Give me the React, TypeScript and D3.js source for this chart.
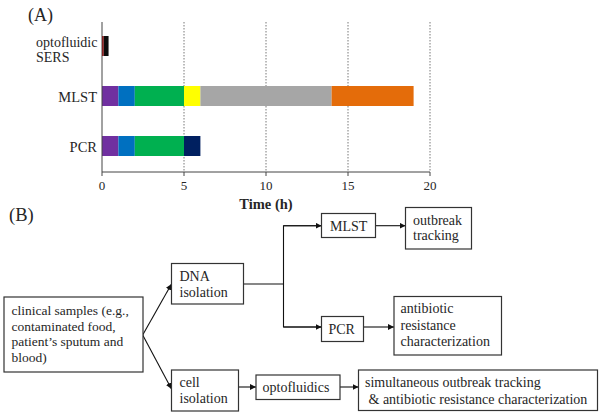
import React, { useEffect } from 'react';
import * as d3 from 'd3';

// Panel A: time-to-result of each method (hours per stage)
const categories = ['optofluidic SERS', 'MLST', 'PCR'];
const optoStages = [0.1, 0.3];
const mlstStages = [1, 1, 3, 1, 8, 5];
const pcrStages = [1, 1, 3, 1];
const optoColors = ['#c00000', '#0d0d0d'];
const mlstColors = ['#7030a0', '#0070c0', '#00b050', '#ffff00', '#a6a6a6', '#e46c0a'];
const pcrColors = ['#7030a0', '#0070c0', '#00b050', '#002060'];
const xTicks = [0, 5, 10, 15, 20];

// Panel B: flow chart
const boxLabels = {
  clinical: ['clinical samples (e.g.,', 'contaminated food,', 'patient\u2019s sputum and', 'blood)'],
  dna: ['DNA', 'isolation'],
  cell: ['cell', 'isolation'],
  mlst: ['MLST'],
  pcr: ['PCR'],
  outbreak: ['outbreak', 'tracking'],
  antibiotic: ['antibiotic', 'resistance', 'characterization'],
  opto: ['optofluidics'],
  simult: ['simultaneous outbreak tracking', ' & antibiotic resistance characterization'],
};

const FONT = "'Liberation Serif', serif";
const INK = '#262626';

// box layout: x, y, w, h, text x, first baseline, line height, font size
const boxLayout: Record<string, number[]> = {
  clinical: [4, 297, 139, 75, 11.5, 315, 15.5, 13.5],
  dna: [171.5, 263.5, 72, 40.5, 179.5, 281, 15.7, 14],
  cell: [171.5, 370, 67, 41, 179.5, 386.7, 16.5, 14],
  mlst: [321.5, 213.5, 54, 24, 330, 230.5, 15, 14],
  pcr: [321.5, 316.5, 42, 25, 328.5, 334, 15, 14],
  outbreak: [405.5, 207.5, 66, 41.5, 413, 225, 15.3, 14],
  antibiotic: [394, 296.5, 107.5, 58.5, 400.5, 313, 16.5, 14],
  opto: [256, 375, 84, 24.5, 262.5, 391.5, 15, 14],
  simult: [358.5, 370, 239, 40.5, 365, 387, 16.5, 14],
};

const links = [
  { pts: [[142.7, 335], [171.5, 284]], arrow: true },
  { pts: [[142.7, 335], [171.5, 389]], arrow: true },
  { pts: [[243.5, 284], [283.5, 284]], arrow: false },
  { pts: [[321.5, 225.7], [283.5, 225.7], [283.5, 327], [321.5, 327]], arrow: false },
  { pts: [[283.5, 225.7], [321.5, 225.7]], arrow: true },
  { pts: [[283.5, 327], [321.5, 327]], arrow: true },
  { pts: [[375.5, 225.7], [405.5, 225.7]], arrow: true },
  { pts: [[363.5, 327], [394, 327]], arrow: true },
  { pts: [[238.5, 387], [256, 387]], arrow: true },
  { pts: [[340, 387], [358.5, 387]], arrow: true },
];

const App = () => {
  useEffect(() => {
    document.body.style.margin = '0';
  }, []);

  const x = d3.scaleLinear().domain([0, 20]).range([102, 430]);
  const y = d3.scaleBand().domain(categories).range([21, 171]).paddingInner(0.6).paddingOuter(0.3);
  const axisY = 172;

  const stacks = [
    { cat: categories[0], vals: optoStages, colors: optoColors },
    { cat: categories[1], vals: mlstStages, colors: mlstColors },
    { cat: categories[2], vals: pcrStages, colors: pcrColors },
  ];

  const line = d3.line();

  return (
    <svg width={602} height={416} style={{ display: 'block', background: '#fff', fontFamily: FONT }}>
      <defs>
        <marker id="arr" viewBox="0 0 10 10" refX="10" refY="5" markerWidth="6" markerHeight="6" orient="auto-start-reverse" markerUnits="userSpaceOnUse">
          <path d="M0,0 L10,5 L0,10 z" fill="#111" />
        </marker>
      </defs>

      {/* (A) */}
      <text x={28} y={21} fontSize={18} fill={INK}>(A)</text>

      {/* gridlines */}
      {xTicks.slice(1).map((t) => (
        <line key={t} x1={x(t)} x2={x(t)} y1={22} y2={axisY} stroke="#555" strokeWidth={0.8} strokeDasharray="1.5,1.5" />
      ))}

      {/* bars */}
      {stacks.map((s) => {
        const ends = d3.cumsum(s.vals);
        return s.vals.map((v, i) => (
          <rect
            key={s.cat + i}
            x={x(ends[i] - v)}
            y={y(s.cat)}
            width={x(ends[i]) - x(ends[i] - v)}
            height={y.bandwidth()}
            fill={s.colors[i]}
          />
        ));
      })}

      {/* axes */}
      <line x1={102} x2={102} y1={22} y2={axisY} stroke="#444" strokeWidth={1} />
      <line x1={102} x2={430} y1={axisY} y2={axisY} stroke="#444" strokeWidth={1} />
      {xTicks.map((t) => (
        <g key={t}>
          <line x1={x(t)} x2={x(t)} y1={axisY} y2={axisY + 4} stroke="#444" />
          <text x={x(t)} y={189.5} fontSize={13} textAnchor="middle" fill={INK}>{t}</text>
        </g>
      ))}
      <text x={x(10)} y={208.5} fontSize={14.5} fontWeight="bold" textAnchor="middle" fill={INK}>Time (h)</text>

      {/* category labels */}
      <text x={36} y={46.5} fontSize={14} fill={INK}>optofluidic</text>
      <text x={36} y={62} fontSize={14} fill={INK}>SERS</text>
      {categories.slice(1).map((c) => (
        <text key={c} x={97} y={(y(c) as number) + y.bandwidth() / 2 + 6} fontSize={14.5} textAnchor="end" fill={INK}>{c}</text>
      ))}

      {/* (B) */}
      <text x={9} y={221} fontSize={18.5} fill={INK}>(B)</text>

      {links.map((l, i) => (
        <path key={i} d={line(l.pts as [number, number][]) || ''} fill="none" stroke="#111" strokeWidth={1.1} markerEnd={l.arrow ? 'url(#arr)' : undefined} />
      ))}

      {Object.keys(boxLayout).map((k) => {
        const [bx, by, bw, bh, tx, ty, lh, fs] = boxLayout[k];
        return (
          <g key={k}>
            <rect x={bx} y={by} width={bw} height={bh} fill="#fff" stroke="#333" strokeWidth={1.2} />
            {boxLabels[k as keyof typeof boxLabels].map((s, i) => (
              <text key={i} x={tx} y={ty + i * lh} fontSize={fs} fill={INK} style={{ whiteSpace: 'pre' }}>{s}</text>
            ))}
          </g>
        );
      })}
    </svg>
  );
};

export default App;
